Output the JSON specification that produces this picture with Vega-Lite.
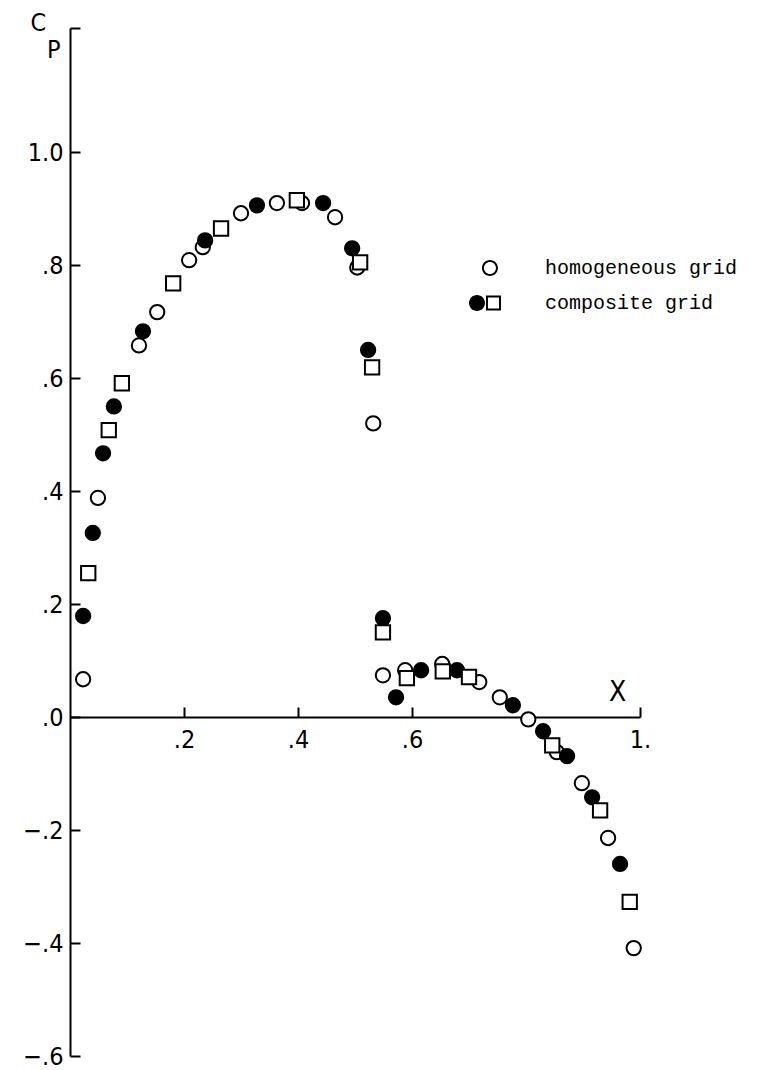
{
  "$schema": "https://vega.github.io/schema/vega-lite/v6.json",
  "width": 570,
  "height": 1028,
  "autosize": "none",
  "padding": {"left": 70, "top": 28, "right": 118, "bottom": 14},
  "background": "white",
  "config": {
    "view": {"stroke": null},
    "axis": {
      "grid": false,
      "domainColor": "black",
      "domainWidth": 2,
      "tickColor": "black",
      "tickWidth": 2,
      "labelColor": "black",
      "titleColor": "black",
      "labelFont": "Liberation Sans Narrow, DejaVu Sans Condensed, Liberation Sans",
      "titleFont": "Liberation Sans Narrow, DejaVu Sans Condensed, Liberation Sans",
      "labelFontSize": 25,
      "titleFontWeight": "normal",
      "labelOverlap": false,
      "labelFlush": false,
      "zindex": 1
    }
  },
  "data": {
    "values": [
      {"series": "homogeneous", "grid": "homogeneous grid", "x": 0.023, "cp": 0.067},
      {"series": "homogeneous", "grid": "homogeneous grid", "x": 0.049, "cp": 0.388},
      {"series": "homogeneous", "grid": "homogeneous grid", "x": 0.121, "cp": 0.658},
      {"series": "homogeneous", "grid": "homogeneous grid", "x": 0.153, "cp": 0.717},
      {"series": "homogeneous", "grid": "homogeneous grid", "x": 0.209, "cp": 0.809},
      {"series": "homogeneous", "grid": "homogeneous grid", "x": 0.233, "cp": 0.832},
      {"series": "homogeneous", "grid": "homogeneous grid", "x": 0.300, "cp": 0.892},
      {"series": "homogeneous", "grid": "homogeneous grid", "x": 0.363, "cp": 0.910},
      {"series": "homogeneous", "grid": "homogeneous grid", "x": 0.407, "cp": 0.910},
      {"series": "homogeneous", "grid": "homogeneous grid", "x": 0.465, "cp": 0.885},
      {"series": "homogeneous", "grid": "homogeneous grid", "x": 0.504, "cp": 0.796},
      {"series": "homogeneous", "grid": "homogeneous grid", "x": 0.532, "cp": 0.520},
      {"series": "homogeneous", "grid": "homogeneous grid", "x": 0.549, "cp": 0.074},
      {"series": "homogeneous", "grid": "homogeneous grid", "x": 0.588, "cp": 0.083},
      {"series": "homogeneous", "grid": "homogeneous grid", "x": 0.653, "cp": 0.094},
      {"series": "homogeneous", "grid": "homogeneous grid", "x": 0.718, "cp": 0.062},
      {"series": "homogeneous", "grid": "homogeneous grid", "x": 0.754, "cp": 0.035},
      {"series": "homogeneous", "grid": "homogeneous grid", "x": 0.804, "cp": -0.004},
      {"series": "homogeneous", "grid": "homogeneous grid", "x": 0.854, "cp": -0.062},
      {"series": "homogeneous", "grid": "homogeneous grid", "x": 0.898, "cp": -0.117},
      {"series": "homogeneous", "grid": "homogeneous grid", "x": 0.944, "cp": -0.214},
      {"series": "homogeneous", "grid": "homogeneous grid", "x": 0.989, "cp": -0.409},

      {"series": "composite 1", "grid": "composite grid", "x": 0.023, "cp": 0.179},
      {"series": "composite 1", "grid": "composite grid", "x": 0.040, "cp": 0.326},
      {"series": "composite 1", "grid": "composite grid", "x": 0.058, "cp": 0.467},
      {"series": "composite 1", "grid": "composite grid", "x": 0.077, "cp": 0.550},
      {"series": "composite 1", "grid": "composite grid", "x": 0.128, "cp": 0.683},
      {"series": "composite 1", "grid": "composite grid", "x": 0.237, "cp": 0.844},
      {"series": "composite 1", "grid": "composite grid", "x": 0.328, "cp": 0.906},
      {"series": "composite 1", "grid": "composite grid", "x": 0.444, "cp": 0.910},
      {"series": "composite 1", "grid": "composite grid", "x": 0.495, "cp": 0.830},
      {"series": "composite 1", "grid": "composite grid", "x": 0.523, "cp": 0.650},
      {"series": "composite 1", "grid": "composite grid", "x": 0.549, "cp": 0.175},
      {"series": "composite 1", "grid": "composite grid", "x": 0.572, "cp": 0.035},
      {"series": "composite 1", "grid": "composite grid", "x": 0.616, "cp": 0.083},
      {"series": "composite 1", "grid": "composite grid", "x": 0.679, "cp": 0.083},
      {"series": "composite 1", "grid": "composite grid", "x": 0.777, "cp": 0.021},
      {"series": "composite 1", "grid": "composite grid", "x": 0.830, "cp": -0.025},
      {"series": "composite 1", "grid": "composite grid", "x": 0.872, "cp": -0.069},
      {"series": "composite 1", "grid": "composite grid", "x": 0.916, "cp": -0.142},
      {"series": "composite 1", "grid": "composite grid", "x": 0.965, "cp": -0.260},

      {"series": "composite 2", "grid": "composite grid", "x": 0.032, "cp": 0.255},
      {"series": "composite 2", "grid": "composite grid", "x": 0.068, "cp": 0.508},
      {"series": "composite 2", "grid": "composite grid", "x": 0.091, "cp": 0.591},
      {"series": "composite 2", "grid": "composite grid", "x": 0.181, "cp": 0.768},
      {"series": "composite 2", "grid": "composite grid", "x": 0.265, "cp": 0.865},
      {"series": "composite 2", "grid": "composite grid", "x": 0.398, "cp": 0.915},
      {"series": "composite 2", "grid": "composite grid", "x": 0.509, "cp": 0.805},
      {"series": "composite 2", "grid": "composite grid", "x": 0.530, "cp": 0.619},
      {"series": "composite 2", "grid": "composite grid", "x": 0.549, "cp": 0.150},
      {"series": "composite 2", "grid": "composite grid", "x": 0.591, "cp": 0.069},
      {"series": "composite 2", "grid": "composite grid", "x": 0.654, "cp": 0.081},
      {"series": "composite 2", "grid": "composite grid", "x": 0.700, "cp": 0.071},
      {"series": "composite 2", "grid": "composite grid", "x": 0.846, "cp": -0.050},
      {"series": "composite 2", "grid": "composite grid", "x": 0.930, "cp": -0.165},
      {"series": "composite 2", "grid": "composite grid", "x": 0.982, "cp": -0.327}
    ]
  },
  "encoding": {
    "x": {
      "field": "x",
      "type": "quantitative",
      "scale": {"domain": [0, 1], "nice": false, "zero": false},
      "axis": {
        "orient": "bottom",
        "offset": -339,
        "values": [0.2, 0.4, 0.6, 1.0],
        "tickSize": -10,
        "labelPadding": 20,
        "labelAngle": 0,
        "labelBaseline": "top",
        "labelExpr": "datum.value == 1 ? '1.' : replace(format(datum.value, '.1f'), '0.', '.')",
        "title": "X",
        "titleFontSize": 28,
        "titleX": 547,
        "titleY": -25,
        "titleAlign": "center",
        "titleBaseline": "middle"
      }
    },
    "y": {
      "field": "cp",
      "type": "quantitative",
      "scale": {"domain": [-0.6, 1.22], "nice": false, "zero": false},
      "axis": {
        "orient": "left",
        "values": [-0.6, -0.4, -0.2, 0, 0.2, 0.4, 0.6, 0.8, 1.0, 1.22],
        "tickSize": -10,
        "labelPadding": 17,
        "labelBaseline": "middle",
        "labelExpr": "datum.value > 1.1 ? '' : datum.value == 1 ? '1.0' : datum.value == 0 ? '.0' : replace(format(datum.value, '.1f'), '0.', '.')",
        "title": ["C", "\u2800P"],
        "titleFontSize": 25,
        "titleAngle": 0,
        "titleX": -40,
        "titleY": -18,
        "titleAlign": "left",
        "titleBaseline": "top",
        "titleLineHeight": 27
      }
    }
  },
  "layer": [
    {
      "mark": {"type": "point", "filled": true, "stroke": "black", "strokeWidth": 2, "opacity": 1, "size": 205},
      "encoding": {
        "shape": {
          "field": "series",
          "type": "nominal",
          "scale": {"domain": ["homogeneous", "composite 1", "composite 2"], "range": ["circle", "circle", "square"]},
          "legend": null
        },
        "fill": {
          "field": "series",
          "type": "nominal",
          "scale": {"domain": ["homogeneous", "composite 1", "composite 2"], "range": ["white", "black", "white"]},
          "legend": null
        }
      }
    },
    {
      "mark": {"type": "point", "filled": true, "fill": "black", "strokeWidth": 0, "opacity": 0},
      "encoding": {
        "shape": {
          "field": "grid",
          "type": "nominal",
          "scale": {
            "domain": ["homogeneous grid", "composite grid"],
            "range": [
              "M-0.19,0A0.5,0.5 0 1 1 0.81,0A0.5,0.5 0 1 1 -0.19,0ZM-0.065,0A0.375,0.375 0 1 0 0.685,0A0.375,0.375 0 1 0 -0.065,0Z",
              "M-1,0A0.5,0.5 0 1 1 0,0A0.5,0.5 0 1 1 -1,0ZM0.06,-0.47L1,-0.47L1,0.47L0.06,0.47ZM0.185,-0.345L0.185,0.345L0.875,0.345L0.875,-0.345Z"
            ]
          },
          "legend": {
            "title": null,
            "orient": "none",
            "legendX": 399,
            "legendY": 224,
            "padding": 0,
            "symbolSize": 1024,
            "symbolFillColor": "black",
            "symbolStrokeWidth": 0,
            "symbolOpacity": 1,
            "labelFont": "Liberation Mono",
            "labelFontSize": 20,
            "labelColor": "black",
            "labelOffset": 44,
            "labelLimit": 0,
            "rowPadding": 9
          }
        }
      }
    }
  ],
  "resolve": {"scale": {"shape": "independent", "fill": "independent"}}
}
